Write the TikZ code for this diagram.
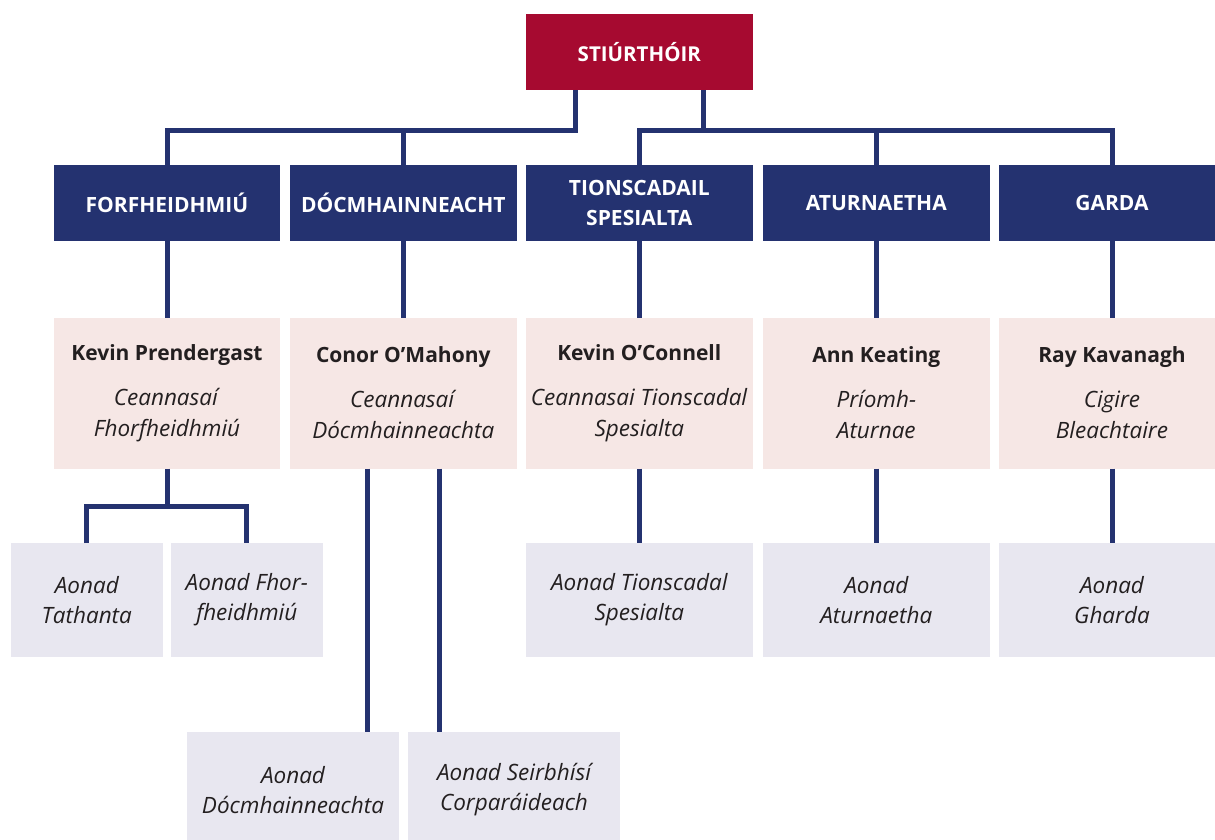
\documentclass[tikz,border=0pt]{standalone}
\usepackage{fontspec}
\setmainfont{Open Sans}
\definecolor{stiur}{HTML}{A60A30}
\definecolor{gorm}{HTML}{243270}
\definecolor{bandearg}{HTML}{F6E7E5}
\definecolor{liath}{HTML}{E8E7F0}
\definecolor{dubh}{HTML}{231F20}
\tikzset{
	bosca/.style={inner sep=0pt, outer sep=0pt, minimum width=226.7pt, align=center},
	barr/.style={bosca, fill=stiur, text=white, minimum height=76pt, font=\bfseries\fontsize{20.5}{30}\selectfont},
	rannog/.style={bosca, fill=gorm, text=white, minimum height=76pt, font=\bfseries\fontsize{21}{30}\selectfont},
	ceann/.style={bosca, fill=bandearg, text=dubh, minimum height=151pt, font=\fontsize{22.5}{31}\selectfont},
	aonad/.style={bosca, fill=liath, text=dubh, minimum height=114pt, font=\itshape\fontsize{22.5}{30}\selectfont},
	ceangal/.style={draw=gorm, line width=5pt}
}
\begin{document}
\begin{tikzpicture}[x=1pt,y=-1pt]
	%eagraíocht
	\useasboundingbox (0,0) rectangle (1215,839);
	\node [barr] (stiur) at (639.3,52) {STIÚRTHÓIR};
	\node [rannog] (rfor) at (167,203) {FORFHEIDHMIÚ};
	\node [rannog] (rdoc) at (403.3,203) {DÓCMHAINNEACHT};
	\node [rannog] (rtio) at (639.3,203) {TIONSCADAIL\\SPESIALTA};
	\node [rannog] (ratu) at (876.3,203) {ATURNAETHA};
	\node [rannog] (rgar) at (1112,203) {GARDA};
	\node [ceann] (cfor) at (167,393) {{\bfseries\fontsize{21}{31}\selectfont Kevin Prendergast}\\[14pt]\textit{Ceannasaí}\\\textit{Fhorfheidhmiú}};
	\node [ceann] (cdoc) at (403.3,393) {{\bfseries\fontsize{21}{31}\selectfont Conor O’Mahony}\\[14pt]\textit{Ceannasaí}\\\textit{Dócmhainneachta}};
	\node [ceann] (ctio) at (639.3,393) {{\bfseries\fontsize{21}{31}\selectfont Kevin O’Connell}\\[14pt]\textit{Ceannasai Tionscadal}\\\textit{Spesialta}};
	\node [ceann] (catu) at (876.3,393) {{\bfseries\fontsize{21}{31}\selectfont Ann Keating}\\[14pt]\textit{Príomh-}\\\textit{Aturnae}};
	\node [ceann] (cgar) at (1112,393) {{\bfseries\fontsize{21}{31}\selectfont Ray Kavanagh}\\[14pt]\textit{Cigire}\\\textit{Bleachtaire}};
	\node [aonad, minimum width=151.7pt] (atat) at (86.8,600) {Aonad\\Tathanta};
	\node [aonad, minimum width=151.7pt] (afor) at (246.8,600) {Aonad Fhor-\\fheidhmiú};
	\node [aonad] (atio) at (639.3,600) {Aonad Tionscadal\\Spesialta};
	\node [aonad] (aatu) at (876.3,600) {Aonad\\Aturnaetha};
	\node [aonad] (agar) at (1112,600) {Aonad\\Gharda};
	\node [aonad, minimum width=212pt, minimum height=116pt] (adoc) at (293,790) {Aonad\\Dócmhainneachta};
	\node [aonad, minimum width=212pt, minimum height=116pt] (aser) at (514,790) {Aonad Seirbhísí\\Corparáideach};
	%ceangail
	\coordinate (barra) at (0,130.5);
	\draw [ceangal] ([xshift=-64pt]stiur.south) -- ([xshift=-64pt]stiur.south |- barra) -| (rfor.north);
	\draw [ceangal] (rdoc.north) -- (rdoc.north |- barra);
	\draw [ceangal] ([xshift=64pt]stiur.south) -- ([xshift=64pt]stiur.south |- barra);
	\draw [ceangal] (rtio.north) |- (rgar.north |- barra) -- (rgar.north);
	\draw [ceangal] (ratu.north) -- (ratu.north |- barra);
	\draw [ceangal] (rfor) -- (cfor);
	\draw [ceangal] (rdoc) -- (cdoc);
	\draw [ceangal] (rtio) -- (ctio);
	\draw [ceangal] (ratu) -- (catu);
	\draw [ceangal] (rgar) -- (cgar);
	\draw [ceangal] (cfor.south) -- ++(0,38) coordinate (gabhal);
	\draw [ceangal] (atat.north) |- (gabhal) -| (afor.north);
	\draw [ceangal] (ctio) -- (atio);
	\draw [ceangal] (catu) -- (aatu);
	\draw [ceangal] (cgar) -- (agar);
	\draw [ceangal] ([xshift=-36pt]cdoc.south) -- ([xshift=-36pt]cdoc.south |- adoc.north);
	\draw [ceangal] ([xshift=36pt]cdoc.south) -- ([xshift=36pt]cdoc.south |- aser.north);
\end{tikzpicture}
\end{document}
